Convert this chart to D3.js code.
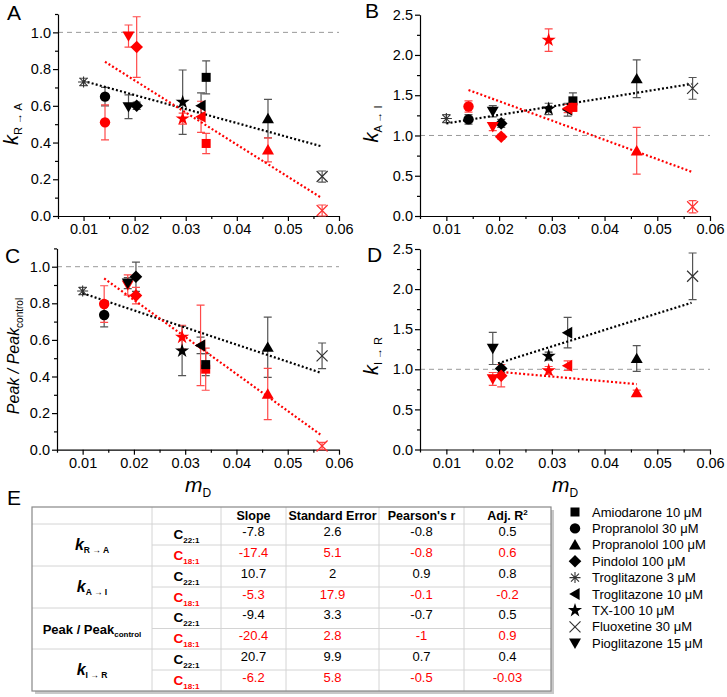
<!DOCTYPE html>
<html><head><meta charset="utf-8">
<script src="https://cdn.jsdelivr.net/npm/d3@7"></script>
<style>body{margin:0;background:#fff} svg{font-family:"Liberation Sans",Arial,sans-serif}</style>
</head><body><svg id="c" width="727" height="697"></svg>
<script>
// ---------------- DATA ----------------
const compounds = ["Amiodarone 10 μM","Propranolol 30 μM","Propranolol 100 μM","Pindolol 100 μM",
  "Troglitazone 3 μM","Troglitazone 10 μM","TX-100 10 μM","Fluoxetine 30 μM","Pioglitazone 15 μM"];
const symbolKeys = ["square","circle","triangle","diamond","asterisk","triangleLeft","star","cross","triangleDown"];
const mD = [0.0340, 0.0142, 0.0461, 0.0204, 0.0100, 0.0330, 0.0294, 0.0567, 0.0188];

// panel A : k R->A
const kRA_c22     = [0.755, 0.65, 0.53, 0.60, 0.73, 0.60, 0.62, 0.215, 0.595];
const kRA_c22_err = [0.09, 0.05, 0.105, 0.02, 0.02, 0.07, 0.175, 0.03, 0.065];
const kRA_c18     = [0.395, 0.51, 0.36, 0.92, null, 0.54, 0.53, 0.03, 0.98];
const kRA_c18_err = [0.055, 0.095, 0.065, 0.165, null, 0.085, 0.03, 0.03, 0.06];
// panel B : k A->I
const kAI_c22     = [1.43, 1.20, 1.705, 1.15, 1.21, 1.32, 1.33, 1.585, 1.30];
const kAI_c22_err = [0.10, 0.06, 0.235, 0.05, 0.05, 0.08, 0.07, 0.135, 0.07];
const kAI_c18     = [1.35, 1.36, 0.81, 0.985, null, 1.335, 2.185, 0.115, 1.11];
const kAI_c18_err = [0.05, 0.07, 0.29, 0.03, null, 0.05, 0.14, 0.075, 0.05];
// panel C : Peak / Peak control
const peak_c22     = [0.465, 0.736, 0.56, 0.945, 0.867, 0.57, 0.54, 0.513, 0.91];
const peak_c22_err = [0.06, 0.065, 0.165, 0.08, 0.02, 0.045, 0.135, 0.07, 0.03];
const peak_c18     = [0.44, 0.796, 0.304, 0.842, null, 0.57, 0.615, 0.02, 0.90];
const peak_c18_err = [0.115, 0.10, 0.14, 0.045, null, 0.22, 0.065, 0.02, 0.055];
// panel D : k I->R
const kIR_c22     = [null, null, 1.135, 1.01, null, 1.457, 1.165, 2.16, 1.26];
const kIR_c22_err = [null, null, 0.16, 0.05, null, 0.19, 0.05, 0.29, 0.20];
const kIR_c18     = [null, null, 0.71, 0.92, null, 1.045, 0.985, null, 0.88];
const kIR_c18_err = [null, null, 0.03, 0.14, null, 0.06, 0.05, null, 0.08];

// linear fit lines, endpoints [x0, y0, x1, y1]
const fitA_c22 = [0.010, 0.735, 0.0565, 0.38];
const fitA_c18 = [0.0142, 0.84, 0.0565, 0.10];
const fitB_c22 = [0.010, 1.15, 0.0565, 1.64];
const fitB_c18 = [0.0142, 1.565, 0.0565, 0.55];
const fitC_c22 = [0.010, 0.855, 0.0565, 0.42];
const fitC_c18 = [0.0142, 0.936, 0.0565, 0.08];
const fitD_c22 = [0.0198, 1.075, 0.0565, 1.83];
const fitD_c18 = [0.0198, 0.97, 0.0461, 0.815];

const xTicks = [0.01, 0.02, 0.03, 0.04, 0.05, 0.06];
const xMinorTicks = [0.005, 0.015, 0.025, 0.035, 0.045, 0.055];
const yTicksAC = [0, 0.2, 0.4, 0.6, 0.8, 1.0];
const yMinorAC = [0.1, 0.3, 0.5, 0.7, 0.9, 1.1];
const yTicksBD = [0, 0.5, 1.0, 1.5, 2.0, 2.5];
const yMinorBD = [0.25, 0.75, 1.25, 1.75, 2.25];

// table
const tableHeader = ["Slope", "Standard Error", "Pearson's r", "Adj. R"];
const tableParams = [["k","R → A"], ["k","A → I"], ["Peak / Peak","control"], ["k","I → R"]];
const tableLipids = [["C","22:1"], ["C","18:1"]];
const tSlope = [[-7.8, -17.4], [10.7, -5.3], [-9.4, -20.4], [20.7, -6.2]];
const tSE    = [[2.6, 5.1], [2, 17.9], [3.3, 2.8], [9.9, 5.8]];
const tR     = [[-0.8, -0.8], [0.9, -0.1], [-0.7, -1], [0.7, -0.5]];
const tAdjR2 = [[0.5, 0.6], [0.8, -0.2], [0.5, 0.9], [0.4, -0.03]];

// ---------------- DRAWING ----------------
const svg = d3.select("#c");
const RED = "#ff0000", BLK = "#000000";

function drawMarker(g, key, cx, cy, color) {
  const lineCol = color === RED ? "#ff3030" : "#333";
  const t = `translate(${cx},${cy})`;
  switch (key) {
    case "square":
      g.append("rect").attr("x", cx-4.5).attr("y", cy-4.5).attr("width", 9).attr("height", 9).attr("fill", color); break;
    case "circle":
      g.append("circle").attr("cx", cx).attr("cy", cy).attr("r", 5.2).attr("fill", color); break;
    case "triangle":
      g.append("path").attr("d", "M0,-5.8L6,4.6L-6,4.6Z").attr("transform", t).attr("fill", color); break;
    case "triangleDown":
      g.append("path").attr("d", "M0,5.8L6,-4.6L-6,-4.6Z").attr("transform", t).attr("fill", color); break;
    case "triangleLeft":
      g.append("path").attr("d", "M-5.8,0L4.6,-6L4.6,6Z").attr("transform", t).attr("fill", color); break;
    case "diamond":
      g.append("path").attr("d", "M0,-6.3L6.3,0L0,6.3L-6.3,0Z").attr("transform", t).attr("fill", color); break;
    case "star":
      g.append("path").attr("d", d3.symbol(d3.symbolStar, 62)()).attr("transform", t).attr("fill", color); break;
    case "cross":
      g.append("path").attr("d", "M-5.5,-5.5L5.5,5.5M-5.5,5.5L5.5,-5.5").attr("transform", t)
        .attr("stroke", lineCol).attr("stroke-width", 1.2).attr("fill", "none"); break;
    case "asterisk":
      g.append("path").attr("d", "M0,-5.5V5.5M-5.5,0H5.5M-4,-4L4,4M-4,4L4,-4").attr("transform", t)
        .attr("stroke", lineCol).attr("stroke-width", 1.1).attr("fill", "none"); break;
  }
}

const panels = [
  {letter:"A", left:58, right:339, top:14, bottom:216, ymax:1.1, yt:yTicksAC, ym:yMinorAC, fmt:".1f",
   c22:kRA_c22, e22:kRA_c22_err, c18:kRA_c18, e18:kRA_c18_err, f22:fitA_c22, f18:fitA_c18,
   redTop:true, lx:7, ly:20, title:["k","R → A"], titleX:18, titleY:124},
  {letter:"B", left:420, right:710, top:14.7, bottom:216, ymax:2.5, yt:yTicksBD, ym:yMinorBD, fmt:".1f",
   c22:kAI_c22, e22:kAI_c22_err, c18:kAI_c18, e18:kAI_c18_err, f22:fitB_c22, f18:fitB_c18,
   redTop:true, lx:365, ly:18, title:["k","A → I"], titleX:378, titleY:124},
  {letter:"C", left:57, right:339, top:248.4, bottom:449.7, ymax:1.1, yt:yTicksAC, ym:yMinorAC, fmt:".1f",
   c22:peak_c22, e22:peak_c22_err, c18:peak_c18, e18:peak_c18_err, f22:fitC_c22, f18:fitC_c18,
   redTop:false, lx:5, ly:263, title:["Peak / Peak","control"], titleX:19, titleY:356, peak:true, xlabel:true},
  {letter:"D", left:420, right:710, top:249, bottom:449.5, ymax:2.5, yt:yTicksBD, ym:yMinorBD, fmt:".1f",
   c22:kIR_c22, e22:kIR_c22_err, c18:kIR_c18, e18:kIR_c18_err, f22:fitD_c22, f18:fitD_c18,
   redTop:true, lx:367, ly:262, title:["k","I → R"], titleX:378, titleY:356, xlabel:true}
];

panels.forEach(p => {
  const g = svg.append("g");
  const x = d3.scaleLinear().domain([0.005, 0.06]).range([p.left, p.right]);
  const y = d3.scaleLinear().domain([0, p.ymax]).range([p.bottom, p.top]);

  // reference line at 1.0
  g.append("line").attr("x1", x(0.005)).attr("x2", x(0.06)).attr("y1", y(1)).attr("y2", y(1))
    .attr("stroke", "#9a9a9a").attr("stroke-width", 1).attr("stroke-dasharray", "5,4");

  // axes
  g.append("g").attr("transform", `translate(0,${p.bottom})`)
    .call(d3.axisBottom(x).tickValues(xTicks).tickFormat(d3.format(".2f")).tickSize(5).tickSizeOuter(0).tickPadding(3));
  g.append("g").attr("transform", `translate(0,${p.bottom})`)
    .call(d3.axisBottom(x).tickValues(xMinorTicks).tickFormat("").tickSize(3).tickSizeOuter(0))
    .select(".domain").remove();
  g.append("g").attr("transform", `translate(${p.left},0)`)
    .call(d3.axisLeft(y).tickValues(p.yt).tickFormat(d3.format(p.fmt)).tickSize(5).tickSizeOuter(0).tickPadding(2));
  g.append("g").attr("transform", `translate(${p.left},0)`)
    .call(d3.axisLeft(y).tickValues(p.ym).tickFormat("").tickSize(3).tickSizeOuter(0))
    .select(".domain").remove();
  g.selectAll(".tick text").attr("font-size", 14.5).attr("fill", "#000")
    .attr("font-family", '"Liberation Sans",Arial,sans-serif');
  g.selectAll(".domain, .tick line").attr("stroke", "#000").attr("stroke-width", 1.2);

  // error bars
  const drawErr = (vals, errs, col) => {
    vals.forEach((v, i) => {
      if (v == null || errs[i] == null) return;
      const cx = x(mD[i]), yl = y(Math.max(0, v - errs[i])), yh = y(v + errs[i]);
      g.append("path").attr("d", `M${cx},${yl}V${yh}M${cx-4},${yl}H${cx+4}M${cx-4},${yh}H${cx+4}`)
        .attr("stroke", col).attr("stroke-width", 1.2).attr("fill", "none");
    });
  };
  drawErr(p.c22, p.e22, "#555");
  drawErr(p.c18, p.e18, "#ff4a4a");

  // fit lines
  const drawFit = (f, col) => {
    g.append("line").attr("x1", x(f[0])).attr("y1", y(f[1])).attr("x2", x(f[2])).attr("y2", y(f[3]))
      .attr("stroke", col).attr("stroke-width", 2.2).attr("stroke-dasharray", "2,2.2");
  };
  drawFit(p.f22, BLK);
  drawFit(p.f18, RED);

  // markers
  const drawSeries = (vals, col) => vals.forEach((v, i) => {
    if (v == null) return;
    drawMarker(g, symbolKeys[i], x(mD[i]), y(v), col);
  });
  if (p.redTop) { drawSeries(p.c22, BLK); drawSeries(p.c18, RED); }
  else { drawSeries(p.c18, RED); drawSeries(p.c22, BLK); }

  // panel letter
  svg.append("text").attr("x", p.lx).attr("y", p.ly).attr("font-size", 21).text(p.letter);

  // y title
  const tt = svg.append("text").attr("transform", `translate(${p.titleX},${p.titleY}) rotate(-90)`)
    .attr("text-anchor", "middle").attr("font-style", "italic");
  if (p.peak) {
    tt.attr("font-size", 16);
    tt.append("tspan").text("Peak / Peak");
    tt.append("tspan").attr("font-size", 10).attr("font-style", "normal").attr("dy", 4).text(p.title[1]);
  } else {
    tt.attr("font-size", 20);
    tt.append("tspan").text(p.title[0]);
    tt.append("tspan").attr("font-size", 11).attr("font-style", "normal").attr("dy", 4).text(p.title[1]);
  }

  // x title
  if (p.xlabel) {
    const xt = svg.append("text").attr("x", (p.left + p.right) / 2).attr("y", 492)
      .attr("text-anchor", "middle").attr("font-style", "italic").attr("font-size", 21);
    xt.append("tspan").text("m");
    xt.append("tspan").attr("font-size", 12).attr("font-style", "normal").attr("dy", 5).text("D");
  }
});

// ---------- Panel E ----------
svg.append("text").attr("x", 7).attr("y", 505).attr("font-size", 21).text("E");

const colX = [32, 152, 221, 286, 379, 464, 551];
const rowY = [507, 524, 545, 566, 587, 608, 628.5, 649, 670, 691];
const tg = svg.append("g");
// shadow
tg.append("rect").attr("x", colX[0] + 3).attr("y", rowY[0] + 3).attr("width", colX[6] - colX[0]).attr("height", rowY[9] - rowY[0])
  .attr("fill", "#c8c8c8");
tg.append("rect").attr("x", colX[0]).attr("y", rowY[0]).attr("width", colX[6] - colX[0]).attr("height", rowY[9] - rowY[0])
  .attr("fill", "#fff");
// inner lines
const LC = "#d4d4d4";
for (let r = 1; r < 9; r++) {
  const full = (r % 2 === 1);
  tg.append("line").attr("x1", full ? colX[0] : colX[1]).attr("x2", colX[6]).attr("y1", rowY[r]).attr("y2", rowY[r])
    .attr("stroke", LC).attr("stroke-width", 1);
}
for (let c = 1; c < 6; c++) {
  tg.append("line").attr("x1", colX[c]).attr("x2", colX[c]).attr("y1", rowY[0]).attr("y2", rowY[9])
    .attr("stroke", LC).attr("stroke-width", 1);
}
tg.append("rect").attr("x", colX[0]).attr("y", rowY[0]).attr("width", colX[6] - colX[0]).attr("height", rowY[9] - rowY[0])
  .attr("fill", "none").attr("stroke", "#888").attr("stroke-width", 1.2);

const cc = i => (colX[i] + colX[i + 1]) / 2;
// header
tableHeader.forEach((h, i) => {
  const t = tg.append("text").attr("x", cc(i + 2)).attr("y", rowY[1] - 4).attr("text-anchor", "middle")
    .attr("font-size", 12.5).attr("font-weight", "bold").text(h);
  if (i === 3) t.append("tspan").attr("font-size", 8).attr("dy", -5).text("2");
});
// body
const valueCols = [tSlope, tSE, tR, tAdjR2];
tableParams.forEach((pr, k) => {
  const yMid = (rowY[1 + 2 * k] + rowY[3 + 2 * k]) / 2;
  const t = tg.append("text").attr("x", cc(0)).attr("y", yMid + 5).attr("text-anchor", "middle").attr("font-weight", "bold");
  if (pr[0] === "k") {
    t.append("tspan").attr("font-size", 16).attr("font-style", "italic").text("k");
    t.append("tspan").attr("font-size", 8.5).attr("dy", 3).text(pr[1]);
  } else {
    t.append("tspan").attr("font-size", 13).text(pr[0]);
    t.append("tspan").attr("font-size", 8).attr("dy", 3).text(pr[1]);
  }
  tableLipids.forEach((lp, j) => {
    const yc = (rowY[1 + 2 * k + j] + rowY[2 + 2 * k + j]) / 2;
    const col = j === 0 ? "#000" : RED;
    const lt = tg.append("text").attr("x", cc(1)).attr("y", yc + 4).attr("text-anchor", "middle")
      .attr("font-weight", "bold").attr("fill", col);
    lt.append("tspan").attr("font-size", 13.5).text(lp[0]);
    lt.append("tspan").attr("font-size", 8).attr("dy", 4).text(lp[1]);
    valueCols.forEach((vc, m) => {
      tg.append("text").attr("x", cc(m + 2)).attr("y", yc + 1).attr("text-anchor", "middle")
        .attr("font-size", 13).attr("fill", col).text(String(vc[k][j]));
    });
  });
});

// ---------- Legend ----------
const lg = svg.append("g");
compounds.forEach((name, i) => {
  const yc = 512 + i * 16.4;
  drawMarker(lg, symbolKeys[i], 575, yc, BLK);
  lg.append("text").attr("x", 592).attr("y", yc + 4.5).attr("font-size", 13).text(name);
});
</script></body></html>
